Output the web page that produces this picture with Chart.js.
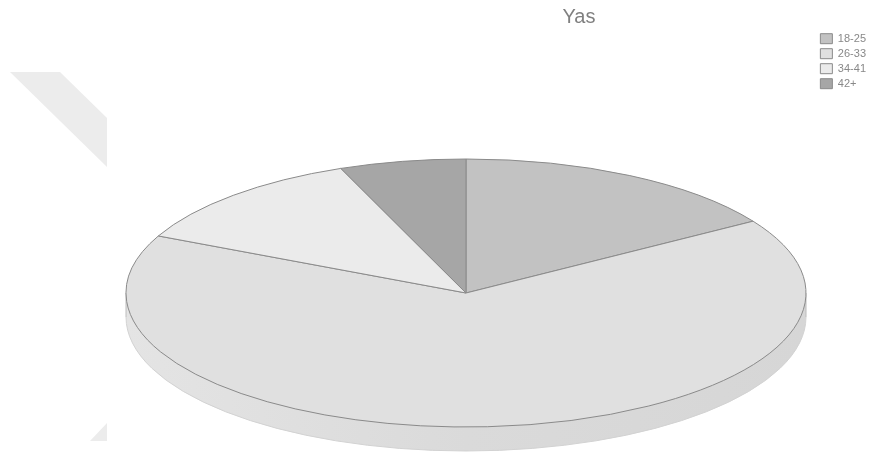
<!DOCTYPE html>
<html>
<head>
<meta charset="utf-8">
<script src="https://cdn.jsdelivr.net/npm/chart.js@4.4.1/dist/chart.umd.min.js"></script>
<style>
  html, body { margin: 0; padding: 0; background: #fff; }
  #wrap { position: relative; width: 882px; height: 455px; }
  .ghost { position: absolute; background: #ececec; }
  #ghost1 { left: 0; top: 0; width: 882px; height: 455px;
            clip-path: polygon(10px 72px, 60px 72px, 107px 118px, 107px 167px); }
  #ghost2 { left: 0; top: 0; width: 882px; height: 455px;
            clip-path: polygon(107px 423px, 107px 441px, 90px 441px); }
  canvas { position: absolute; left: 0; top: 0; }
</style>
</head>
<body>
<div id="wrap">
  <div class="ghost" id="ghost1"></div>
  <div class="ghost" id="ghost2"></div>
  <canvas id="myChart" width="882" height="455"></canvas>
</div>
<script>
// data
const ageGroups = ['18-25', '26-33', '34-41', '42+'];
const counts = [8, 33, 6, 3];
const sliceColors = ['#c2c2c2', '#e0e0e0', '#ebebeb', '#a6a6a6'];

// where the tilted pie sits on the page
const pieLayout = { cx: 466, cy: 293, rx: 340, ry: 134, depth: 24 };

// squash the round pie into a tilted ellipse and add a rim below it
const tiltPlugin = {
    id: 'tilt',
    beforeDatasetsDraw(chart) {
        const ctx = chart.ctx;
        const arc = chart.getDatasetMeta(0).data[0];
        if (!arc) return;
        const R = arc.outerRadius;
        const p = pieLayout;

        // rim (front side of the disc)
        ctx.save();
        const grad = ctx.createLinearGradient(p.cx - p.rx, 0, p.cx + p.rx, 0);
        grad.addColorStop(0, '#e4e4e4');
        grad.addColorStop(0.5, '#dadada');
        grad.addColorStop(1, '#d6d6d6');
        ctx.beginPath();
        ctx.moveTo(p.cx + p.rx, p.cy);
        ctx.lineTo(p.cx + p.rx, p.cy + p.depth);
        ctx.ellipse(p.cx, p.cy + p.depth, p.rx, p.ry, 0, 0, Math.PI);
        ctx.lineTo(p.cx - p.rx, p.cy);
        ctx.closePath();
        ctx.fillStyle = grad;
        ctx.fill();
        ctx.beginPath();
        ctx.ellipse(p.cx, p.cy + p.depth, p.rx, p.ry, 0, 0, Math.PI);
        ctx.strokeStyle = '#d2d2d2';
        ctx.lineWidth = 1;
        ctx.stroke();
        ctx.beginPath();
        ctx.moveTo(p.cx - p.rx, p.cy);
        ctx.lineTo(p.cx - p.rx, p.cy + p.depth);
        ctx.moveTo(p.cx + p.rx, p.cy);
        ctx.lineTo(p.cx + p.rx, p.cy + p.depth);
        ctx.strokeStyle = '#bcbcbc';
        ctx.stroke();
        ctx.restore();

        // top face: library arcs drawn through a transform
        ctx.save();
        ctx.translate(p.cx, p.cy);
        ctx.scale(p.rx / R, p.ry / R);
        ctx.translate(-arc.x, -arc.y);
        const dpr = chart.currentDevicePixelRatio || 1;
        const origStroke = ctx.stroke;
        ctx._origStroke = origStroke;
        ctx.stroke = function() {
            this.save();
            this.setTransform(dpr, 0, 0, dpr, 0, 0);
            origStroke.apply(this, arguments);
            this.restore();
        };
    },
    afterDatasetsDraw(chart) {
        const ctx = chart.ctx;
        if (ctx._origStroke) {
            ctx.stroke = ctx._origStroke;
            delete ctx._origStroke;
            ctx.restore();
        }
    }
};

const ctx = document.getElementById('myChart').getContext('2d');
new Chart(ctx, {
    type: 'pie',
    data: {
        labels: ageGroups,
        datasets: [{
            data: counts,
            backgroundColor: sliceColors,
            borderColor: '#8a8a8a',
            borderWidth: 1,
            clip: false
        }]
    },
    options: {
        responsive: false,
        animation: false,
        layout: { padding: { left: 282, right: 6, top: 2 } },
        plugins: {
            title: {
                display: true,
                text: 'Yas',
                color: '#808080',
                font: { family: 'Liberation Sans, Arial, sans-serif', size: 20, weight: 'normal' },
                padding: { top: 3, bottom: 4 }
            },
            legend: {
                position: 'right',
                align: 'start',
                title: {
                    display: true,
                    text: ' ',
                    padding: { top: 8, bottom: 6 },
                    font: { size: 11 }
                },
                labels: {
                    boxWidth: 12,
                    boxHeight: 10,
                    padding: 4,
                    color: '#888',
                    font: { family: 'Liberation Sans, Arial, sans-serif', size: 11 }
                }
            },
            tooltip: { enabled: false }
        }
    },
    plugins: [tiltPlugin]
});
</script>
</body>
</html>
